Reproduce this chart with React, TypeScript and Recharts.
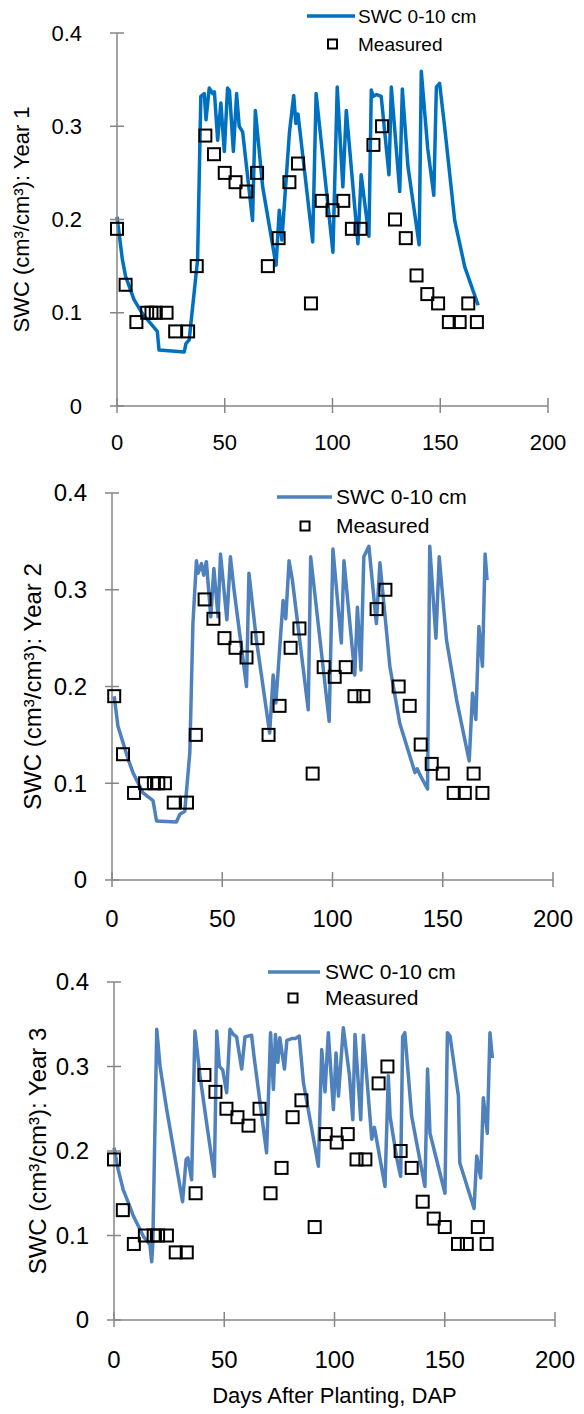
import { ComposedChart, Line, Scatter, XAxis, YAxis, Legend } from "recharts";

const X_TICKS = [0, 50, 100, 150, 200];
const Y_TICKS = [0, 0.1, 0.2, 0.3, 0.4];
const LINE_NAME = "SWC 0-10 cm";
const POINT_NAME = "Measured";
const X_TITLE = "Days After Planting, DAP";

// measured soil water content, same sampling in all years
const MEASURED_SWC = [
  0.19, 0.13, 0.09, 0.1, 0.1, 0.1, 0.1, 0.08, 0.08, 0.15, 0.29, 0.27, 0.25,
  0.24, 0.23, 0.25, 0.15, 0.18, 0.24, 0.26, 0.11, 0.22, 0.21, 0.22, 0.19,
  0.19, 0.28, 0.3, 0.2, 0.18, 0.14, 0.12, 0.11, 0.09, 0.09, 0.11, 0.09,
];
const Y1_MEASURED_DAP = [
  0, 4, 9, 14, 16, 18, 23, 27, 33, 37, 41, 45, 50, 55, 60, 65, 70, 75, 80, 84,
  90, 95, 100, 105, 109, 113, 119, 123, 129, 134, 139, 144, 149, 154, 159, 163,
  167,
];
const Y2_MEASURED_DAP = [
  1, 5, 10, 15, 19, 21, 24, 28, 34, 38, 42, 46, 51, 56, 61, 66, 71, 76, 81, 85,
  91, 96, 101, 106, 110, 114, 120, 124, 130, 135, 140, 145, 150, 155, 160, 164,
  168,
];
const Y3_MEASURED_DAP = [
  0, 4, 9, 14, 18, 20, 24, 28, 33, 37, 41, 46, 51, 56, 61, 66, 71, 76, 81, 85,
  91, 96, 101, 106, 110, 114, 120, 124, 130, 135, 140, 145, 150, 156, 160, 165,
  169,
];

// simulated SWC 0-10 cm
const Y1_SIM_DAP = [
  0, 2.5, 4, 7.9, 11.8, 18.7, 19.5, 31.2, 32, 33.5, 37.4, 38.9, 40.5, 41.3,
  42.8, 44.4, 45.2, 46.7, 48.2, 49.8, 51.3, 52.2, 54, 55.5, 56.7, 58.3, 62.9,
  64.2, 67.6, 73.8, 75.3, 76.5, 80, 82, 83, 84, 90.8, 92.4, 100.2, 102.2,
  104.8, 106.4, 111.8, 113.3, 116.9, 118, 118.8, 120.5, 122.6, 126.2, 127.3,
  131.2, 132.4, 135, 140.2, 141.2, 142.7, 144.2, 147, 148.2, 149.7, 152, 156.7,
  161.4, 167.6,
];
const Y1_SIM_SWC = [
  0.203, 0.157, 0.139, 0.114, 0.099, 0.08, 0.06, 0.058, 0.067, 0.071, 0.157,
  0.332, 0.335, 0.307, 0.341, 0.335, 0.337, 0.285, 0.325, 0.273, 0.341, 0.338,
  0.273, 0.335, 0.3, 0.294, 0.199, 0.317, 0.235, 0.151, 0.21, 0.178, 0.293,
  0.333, 0.303, 0.313, 0.176, 0.335, 0.165, 0.342, 0.235, 0.317, 0.174, 0.248,
  0.182, 0.339, 0.332, 0.334, 0.332, 0.248, 0.342, 0.23, 0.34, 0.257, 0.173,
  0.359, 0.317, 0.276, 0.226, 0.342, 0.346, 0.3, 0.199, 0.149, 0.108,
];
const Y2_SIM_DAP = [
  1, 2.7, 5, 7.3, 9.5, 14.1, 18.6, 20.2, 29.2, 30.8, 33, 35.3, 36.7, 38.3, 39,
  40.6, 41.6, 42.8, 44.8, 46.2, 48.1, 49.2, 52.1, 53.7, 55.4, 61, 62.1, 65.5,
  71.5, 73.1, 74.3, 77.6, 78.8, 80.3, 81.8, 89, 90.1, 98.5, 100.2, 102, 104,
  105.2, 110.1, 111.3, 112.9, 114.2, 116.5, 119.9, 121.5, 126, 130.5, 137.4,
  138.4, 139.4, 143.1, 144.1, 146.9, 148.4, 151.7, 156.3, 162, 163.5, 165,
  166.4, 168, 169.2, 170.1,
];
const Y2_SIM_SWC = [
  0.19, 0.159, 0.142, 0.125, 0.111, 0.09, 0.082, 0.061, 0.06, 0.068, 0.071,
  0.132, 0.265, 0.33, 0.317, 0.327, 0.315, 0.329, 0.272, 0.322, 0.272, 0.337,
  0.269, 0.334, 0.299, 0.2, 0.317, 0.248, 0.152, 0.212, 0.183, 0.289, 0.27,
  0.33, 0.31, 0.176, 0.334, 0.164, 0.342, 0.296, 0.245, 0.33, 0.212, 0.282,
  0.217, 0.334, 0.345, 0.265, 0.328, 0.221, 0.162, 0.111, 0.115, 0.11, 0.094,
  0.345, 0.25, 0.334, 0.248, 0.186, 0.123, 0.193, 0.166, 0.262, 0.221, 0.337,
  0.31,
];
const Y3_SIM_DAP = [
  0, 1.9, 4.2, 6.5, 8.8, 13.3, 16.3, 17.1, 17.6, 19.4, 20.9, 23.9, 31.1, 32.7,
  33.5, 35.2, 36.7, 39, 42, 45.5, 46.6, 47.8, 49.3, 51.1, 52.6, 54.1, 55.6,
  57.9, 59.4, 62.4, 63.5, 69.2, 71, 72.3, 73.2, 74.3, 75.2, 77.3, 78.4, 80.6,
  82.2, 84, 85.9, 92.7, 94.2, 95.7, 97.2, 99.5, 100.7, 101.8, 104, 106.8,
  108.3, 109.3, 111.9, 113.1, 116.9, 118.1, 122.9, 124.4, 125.2, 128.2, 130,
  130.9, 131.9, 135, 141, 142.2, 143.3, 150.1, 151.2, 152.4, 156.2, 156.8,
  163.3, 164.5, 166.3, 167.5, 169.3, 170.5, 171.6,
];
const Y3_SIM_SWC = [
  0.204, 0.178, 0.154, 0.139, 0.123, 0.099, 0.089, 0.069, 0.09, 0.344, 0.3,
  0.249, 0.14, 0.19, 0.192, 0.166, 0.342, 0.289, 0.233, 0.17, 0.342, 0.3,
  0.296, 0.269, 0.344, 0.338, 0.335, 0.297, 0.335, 0.337, 0.312, 0.198, 0.34,
  0.273, 0.338, 0.305, 0.334, 0.297, 0.331, 0.333, 0.333, 0.336, 0.281, 0.182,
  0.32, 0.27, 0.34, 0.249, 0.316, 0.265, 0.346, 0.289, 0.237, 0.338, 0.237,
  0.337, 0.214, 0.228, 0.158, 0.289, 0.241, 0.192, 0.17, 0.335, 0.34, 0.241,
  0.158, 0.297, 0.221, 0.15, 0.34, 0.336, 0.265, 0.186, 0.132, 0.194, 0.168,
  0.263, 0.221, 0.34, 0.31,
];

const AXIS = "#868686";
const FONT = "'Liberation Sans', Arial, sans-serif";

const toPoints = (days: number[], vals: number[]) =>
  days.map((d, i) => ({ d, v: vals[i] }));

const makeXTick = (fs: number, dy: number) => (props: any) => {
  const { x, y, payload } = props;
  return (
    <g>
      <line x1={x} x2={x} y1={y - 8} y2={y + 7} stroke={AXIS} strokeWidth={1.5} />
      <text x={x} y={y + dy} textAnchor="middle" fontSize={fs} fontFamily={FONT} fill="#000">
        {payload.value}
      </text>
    </g>
  );
};

const makeYTick = (fs: number, gap: number) => (props: any) => {
  const { x, y, payload } = props;
  const label = payload.value === 0 ? "0" : payload.value.toFixed(1);
  return (
    <g>
      <line x1={x - 7} x2={x + 7} y1={y} y2={y} stroke={AXIS} strokeWidth={1.5} />
      <text x={x - gap} y={y + fs * 0.35} textAnchor="end" fontSize={fs} fontFamily={FONT} fill="#000">
        {label}
      </text>
    </g>
  );
};

const Square = (props: any) => {
  const { cx, cy } = props;
  return <rect x={cx - 6} y={cy - 6} width={12} height={12} fill="none" stroke="#000" strokeWidth={2} />;
};

interface LegendGeom {
  left: number;
  top: number;
  lineLen: number;
  lineY: number;
  squareX: number;
  pointY: number;
  textX: number;
  fs: number;
}

const makeLegend = (color: string, g: LegendGeom) => () => (
  <svg width={260} height={90} style={{ overflow: "visible" }}>
    <line x1={0} x2={g.lineLen} y1={g.lineY} y2={g.lineY} stroke={color} strokeWidth={3.5} />
    <text x={g.textX} y={g.lineY + g.fs * 0.35} fontSize={g.fs} fontFamily={FONT} fill="#000">
      {LINE_NAME}
    </text>
    <rect x={g.squareX - 4.5} y={g.pointY - 4.5} width={9} height={9} fill="none" stroke="#000" strokeWidth={2} />
    <text x={g.textX} y={g.pointY + g.fs * 0.35} fontSize={g.fs} fontFamily={FONT} fill="#000">
      {POINT_NAME}
    </text>
  </svg>
);

interface PanelProps {
  top: number;
  height: number;
  yWidth: number;
  marginTop: number;
  marginRight: number;
  xHeight: number;
  color: string;
  simDap: number[];
  simSwc: number[];
  measDap: number[];
  yTitle: string;
  fs: number;
  yGap: number;
  xDy: number;
  titleOffset: number;
  legend: LegendGeom;
  showXTitle?: boolean;
}

function SwcPanel(p: PanelProps) {
  const sim = toPoints(p.simDap, p.simSwc);
  const meas = toPoints(p.measDap, MEASURED_SWC);
  return (
    <div style={{ position: "absolute", left: 0, top: p.top }}>
      <ComposedChart
        width={584}
        height={p.height}
        margin={{ top: p.marginTop, right: p.marginRight, left: 0, bottom: 0 }}
      >
        <XAxis
          dataKey="d"
          type="number"
          domain={[0, 200]}
          ticks={X_TICKS}
          height={p.xHeight}
          axisLine={{ stroke: AXIS, strokeWidth: 1.5 }}
          tickLine={false}
          tickSize={0}
          tickMargin={0}
          tick={makeXTick(p.fs, p.xDy)}
          label={
            p.showXTitle
              ? {
                  value: X_TITLE,
                  position: "insideBottom",
                  offset: 11,
                  fontSize: 22,
                  fontFamily: FONT,
                  fill: "#000",
                }
              : undefined
          }
        />
        <YAxis
          dataKey="v"
          type="number"
          domain={[0, 0.4]}
          ticks={Y_TICKS}
          width={p.yWidth}
          axisLine={{ stroke: AXIS, strokeWidth: 1.5 }}
          tickLine={false}
          tickSize={0}
          tickMargin={0}
          tick={makeYTick(p.fs, p.yGap)}
          label={{
            value: p.yTitle,
            angle: -90,
            position: "insideLeft",
            offset: p.titleOffset,
            fontSize: p.fs,
            fontFamily: FONT,
            fill: "#000",
            style: { textAnchor: "middle" },
          }}
        />
        <Legend
          layout="vertical"
          align="center"
          verticalAlign="middle"
          wrapperStyle={{ left: p.legend.left, top: p.legend.top, width: 260, height: 90 }}
          content={makeLegend(p.color, p.legend)}
        />
        <Line
          data={sim}
          dataKey="v"
          name={LINE_NAME}
          type="linear"
          stroke={p.color}
          strokeWidth={3.5}
          strokeLinejoin="round"
          dot={false}
          isAnimationActive={false}
        />
        <Scatter
          data={meas}
          dataKey="v"
          name={POINT_NAME}
          shape={Square}
          isAnimationActive={false}
        />
      </ComposedChart>
    </div>
  );
}

export default function App() {
  return (
    <div style={{ position: "absolute", left: 0, top: 0, width: 584, height: 1414, background: "#fff" }}>
      <SwcPanel
        top={0}
        height={462}
        yWidth={117}
        marginTop={33}
        marginRight={36}
        xHeight={56}
        color="#0070C0"
        simDap={Y1_SIM_DAP}
        simSwc={Y1_SIM_SWC}
        measDap={Y1_MEASURED_DAP}
        yTitle="SWC (cm³/cm³): Year 1"
        fs={22}
        yGap={35}
        xDy={44}
        titleOffset={21}
        legend={{ left: 307, top: 0, lineLen: 48, lineY: 16, squareX: 25.5, pointY: 44, textX: 51, fs: 19 }}
      />
      <SwcPanel
        top={462}
        height={476}
        yWidth={112}
        marginTop={31}
        marginRight={31}
        xHeight={58}
        color="#4F81BD"
        simDap={Y2_SIM_DAP}
        simSwc={Y2_SIM_SWC}
        measDap={Y2_MEASURED_DAP}
        yTitle="SWC (cm³/cm³): Year 2"
        fs={24}
        yGap={25}
        xDy={47}
        titleOffset={32}
        legend={{ left: 277, top: 0, lineLen: 55, lineY: 35, squareX: 28, pointY: 64, textX: 59, fs: 21 }}
      />
      <SwcPanel
        top={940}
        height={474}
        yWidth={114}
        marginTop={42}
        marginRight={29}
        xHeight={94}
        color="#4F81BD"
        simDap={Y3_SIM_DAP}
        simSwc={Y3_SIM_SWC}
        measDap={Y3_MEASURED_DAP}
        yTitle="SWC (cm³/cm³): Year 3"
        fs={24}
        yGap={25}
        xDy={48}
        titleOffset={37}
        showXTitle
        legend={{ left: 268, top: 0, lineLen: 52, lineY: 32, squareX: 25, pointY: 58, textX: 57, fs: 21 }}
      />
    </div>
  );
}
